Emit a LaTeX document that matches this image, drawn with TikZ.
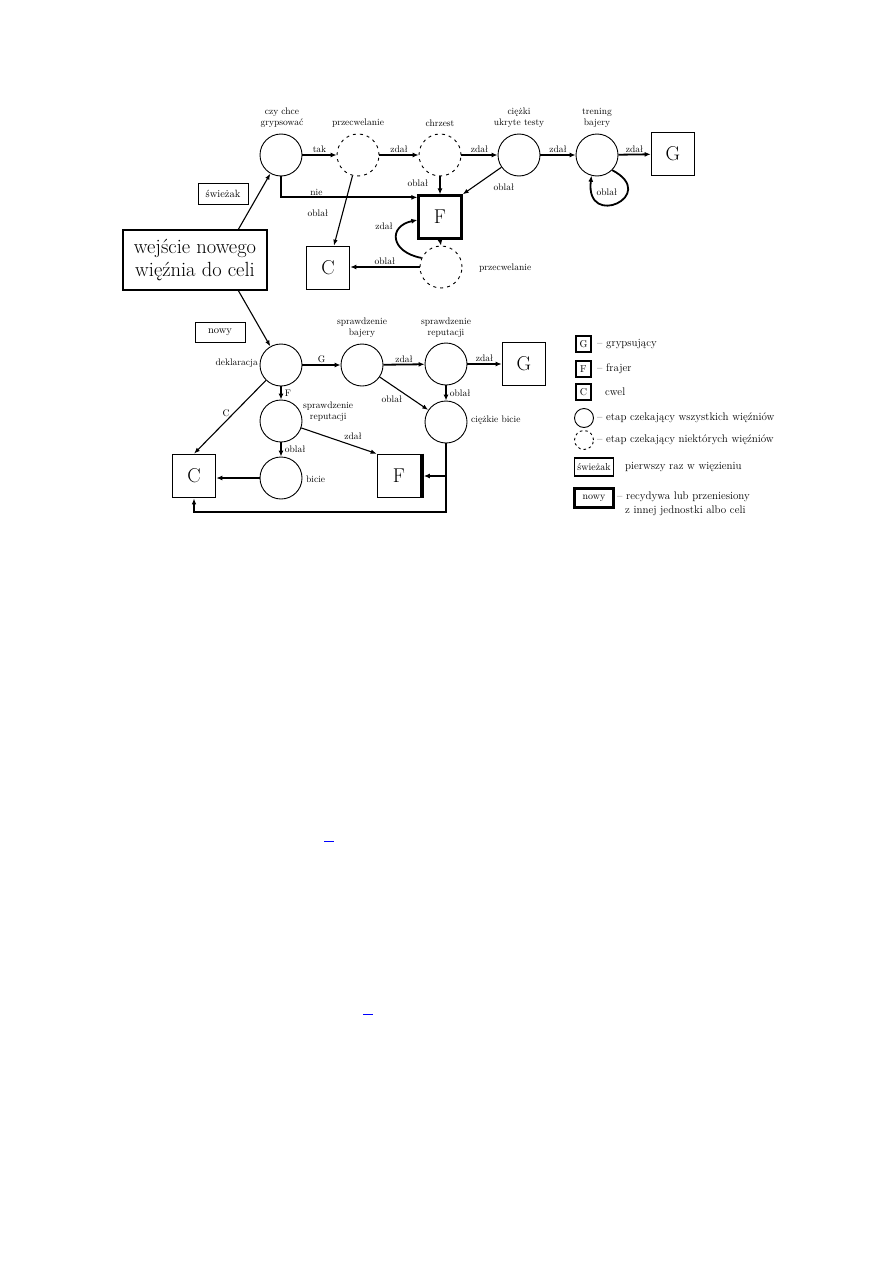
\documentclass[tikz,border=0pt]{standalone}
\usepackage{fontspec}
\usetikzlibrary{arrows.meta,calc}
\tikzset{
  st/.style={circle, draw, line width=0.9pt, minimum size=42pt, inner sep=0pt},
  dst/.style={st, dash pattern=on 3pt off 4pt},
  bx/.style={draw, line width=1.6pt, minimum size=43pt, inner sep=0pt, font=\fontsize{20}{22}\selectfont},
  lb/.style={font=\fontsize{9.5}{11}\selectfont, inner sep=1pt},
  ar/.style={-{Latex[length=6pt,width=5pt]}, line width=1.8pt},
  tar/.style={-{Latex[length=6pt,width=4.5pt]}, line width=1.1pt},
  lgb/.style={draw, line width=1.3pt, minimum width=15pt, minimum height=16pt, inner sep=0pt, font=\fontsize{10}{11}\selectfont},
  lt/.style={anchor=west, inner sep=0pt, font=\fontsize{11}{13}\selectfont},
  tb/.style={draw, line width=0.9pt, inner sep=0pt, font=\fontsize{10.5}{12}\selectfont}
}
\begin{document}
\begin{tikzpicture}[x=1pt,y=-1pt]
\useasboundingbox (0,0) rectangle (893,1263);

% ---------- top part ----------
\node[st]  (czy) at (281,155) {};
\node[dst] (prz) at (358,155) {};
\node[dst] (chr) at (440,155) {};
\node[st]  (ukr) at (519,155) {};
\node[st]  (tre) at (597,155) {};
\node[bx]  (G1) at (673,154) {G};
\node[bx, line width=2.3pt] (F1) at (440,217) {F};
\node[dst] (prz2) at (441,267) {};
\node[bx]  (C1) at (328,268) {C};

\node[lb, align=center] (tczy) at (282,117.5) {czy chce\\grypsować};
\node[lb] (tprz) at (358,123) {przecwelanie};
\node[lb] (tchr) at (440,123) {chrzest};
\node[lb, align=center] (tukr) at (519,117.5) {ciężki\\ukryte testy};
\node[lb, align=center] (ttre) at (597,117.5) {trening\\bajery};
\node[lb, anchor=west] (tprz2) at (478,268) {przecwelanie};

\node[draw, line width=1.3pt, minimum width=144pt, minimum height=60pt, inner sep=0pt,
      align=center, font=\fontsize{20.5}{23}\selectfont] (wej) at (195,260)
      {wejście nowego\\więźnia do celi};
\node[tb, minimum width=50pt, minimum height=21pt] (swi) at (223,193.5) {świeżak};
\node[tb, minimum width=50pt, minimum height=20pt] (now) at (220,332) {nowy};

% top connectors
\draw[ar] (czy) -- node[lb, above] (ltak) {tak} (prz);
\draw[ar] (prz) -- node[lb, above] (lz1) {zdał} (chr);
\draw[ar] (chr) -- node[lb, above] (lz2) {zdał} (ukr);
\draw[ar] (ukr) -- node[lb, above] (lz3) {zdał} (tre);
\draw[ar] (tre) -- node[lb, above] (lz4) {zdał} (G1);
\draw[ar] (czy.south) |- node[lb, above, pos=0.63] (lnie) {nie} ($(F1.north west)+(0,3)$);
\draw[ar] (chr) -- (F1);
\node[lb] (lo1) at (418,183) {oblał};
\draw[tar] (ukr) -- (F1.north east);
\node[lb] (lo2) at (504,187) {oblał};
\draw[tar] (prz) -- (C1);
\node[lb] (lo3) at (318,213) {oblał};
\draw[ar] (prz2) -- node[lb, above] (lo4) {oblał} (prz2 -| C1.east);
\draw[ar] (F1.south) -- (prz2.north);
\draw[ar] (prz2.155) .. controls (390,252) and (388,226) .. ($(F1.west)+(0,3)$);
\node[lb] (lz5) at (384,226) {zdał};
\draw[ar] (tre.-45) .. controls (660,195) and (585,230) .. (tre.-105);
\node[lb] (lo5) at (607,192) {oblał};

% ---------- bottom part ----------
\node[st] (dek)  at (281,365) {};
\node[st] (baj)  at (362,365) {};
\node[st] (rep2) at (446,364) {};
\node[bx] (G2)   at (524,364) {G};
\node[st] (cb)   at (446,422) {};
\node[st] (rep1) at (281,421) {};
\node[st] (bic)  at (281,478) {};
\node[bx] (C2)   at (194,476) {C};
\node[bx] (F2)   at (399,476) {F};
\draw[line width=3.5pt] ($(F2.north east)+(0.5,0)$) -- ($(F2.south east)+(0.5,0)$);

\node[lb, anchor=east] (tdek) at (259,363) {deklaracja};
\node[lb, align=center] (tbaj) at (362,327.5) {sprawdzenie\\bajery};
\node[lb, align=center] (trep2) at (446,327.5) {sprawdzenie\\reputacji};
\node[lb, align=center, anchor=west] (trep1) at (302,412) {sprawdzenie\\reputacji};
\node[lb, anchor=west] (tbic) at (305,479) {bicie};
\node[lb, anchor=west] (tcb) at (470,420) {ciężkie bicie};

% entry arrows
\coordinate (wt) at (238,230);
\coordinate (wb) at (238,290);
\draw[tar] (wt) -- (czy);
\draw[tar] (wb) -- (dek);

\draw[ar] (dek) -- node[lb, above] (lG) {G} (baj);
\draw[ar] (baj) -- node[lb, above] (lz6) {zdał} (rep2);
\draw[ar] (rep2) -- node[lb, above] (lz7) {zdał} (G2);
\draw[ar] (rep2) -- node[lb, right=2pt] (lo6) {oblał} (cb);
\draw[tar] (baj) -- (cb);
\node[lb] (lo7) at (392,399) {oblał};
\draw[ar] (dek) -- node[lb, right=2pt] (lF) {F} (rep1);
\draw[tar] (dek) -- (C2.north);
\node[lb] (lC) at (226,413) {C};
\draw[ar] (rep1) -- node[lb, right=2pt] (lo8) {oblał} (bic);
\draw[tar] (rep1) -- (F2.north west);
\node[lb] (lz8) at (353,436) {zdał};
\draw[ar] (bic) -- (bic -| C2.east);
\draw[ar] (cb.south) |- ($(F2.east)+(2.5,0)$);
\coordinate (lp) at (446,512);
\draw[tar] (cb.south) |- (C2.south |- lp) -- (C2.south);

% ---------- legend ----------
\node[lgb] (kG) at (583.5,344) {G};
\node[lgb, line width=1.8pt] (kF) at (583.5,369) {F};
\node[lgb] (kC) at (583.5,392) {C};
\node[circle, draw, line width=0.9pt, minimum size=19pt, inner sep=0pt] (kc) at (584,418) {};
\node[circle, draw, line width=0.9pt, dash pattern=on 2.5pt off 3pt, minimum size=19pt, inner sep=0pt] (kd) at (584,440) {};
\node[draw, line width=1.3pt, minimum width=39pt, minimum height=18pt, inner sep=0pt, font=\fontsize{10}{11}\selectfont] (ks) at (594,467) {świeżak};
\node[draw, line width=2.3pt, minimum width=39pt, minimum height=19pt, inner sep=0pt, font=\fontsize{10}{11}\selectfont] (kn) at (594,498) {nowy};

\node[lt] (xG) at (597,344) {– grypsujący};
\node[lt] (xF) at (597,369) {– frajer};
\node[lt] (xC) at (605,392) {cwel};
\node[lt] (xc) at (597,418) {– etap czekający wszystkich więźniów};
\node[lt] (xd) at (597,440) {– etap czekający niektórych więźniów};
\node[lt] (xs) at (625,467) {pierwszy raz w więzieniu};
\node[lt] (xn) at (617,497) {– recydywa lub przeniesiony};
\node[lt] (xn2) at (625,511) {z innej jednostki albo celi};

% small blue marks
\draw[blue, line width=1pt] (324,841) -- (334,841);
\draw[blue, line width=1pt] (363,1014) -- (373,1014);
\end{tikzpicture}
\end{document}
